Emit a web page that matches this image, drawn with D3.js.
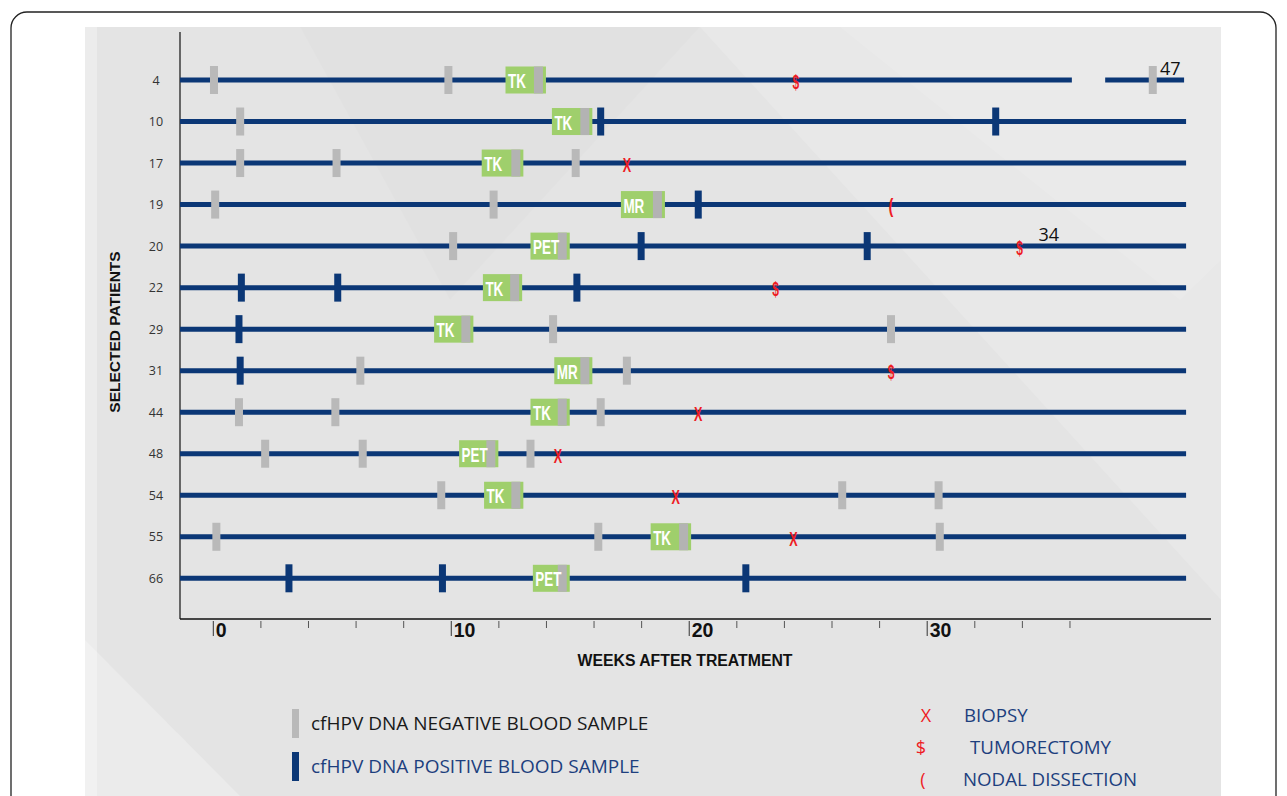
<!DOCTYPE html>
<html>
<head>
<meta charset="utf-8">
<script src="https://cdn.jsdelivr.net/npm/d3@7"></script>
<style>
html,body{margin:0;padding:0;background:#fff;}
svg{display:block;}
</style>
</head>
<body>
<svg id="chart" width="1287" height="796"></svg>
<script>
// ---------------- data ----------------
const patients = ["4","10","17","19","20","22","29","31","44","48","54","55","66"];
const negativeSamples = [
  [0.05, 9.9, 39.5], [1.15], [1.15, 5.2, 15.25], [0.1, 11.8], [10.1], [],
  [14.3, 28.5], [6.2, 17.4], [1.1, 5.15, 16.3], [2.2, 6.3, 13.35],
  [9.6, 26.45, 30.5], [0.15, 16.2, 30.55], []
];
const positiveSamples = [
  [], [16.3, 32.9], [], [20.4], [18.0, 27.5], [1.2, 5.25, 15.3],
  [1.1], [1.15], [], [], [], [], [3.2, 9.65, 22.4]
];
const imagingType  = ["TK","TK","TK","MR","PET","TK","TK","MR","TK","PET","TK","TK","PET"];
const imagingStart = [12.3, 14.25, 11.3, 17.15, 13.35, 11.35, 9.3, 14.35, 13.35, 10.35, 11.4, 18.4, 13.45];
const imagingEnd   = [14.0, 15.95, 13.05, 19.0, 15.0, 13.0, 10.95, 15.95, 15.0, 12.0, 13.05, 20.1, 15.0];
const biopsyWeeks       = [null, null, 17.4, null, null, null, null, null, 20.4, 14.5, 19.45, 24.4, null];
const tumorectomyWeeks  = [24.5, null, null, null, 33.9, 23.65, null, 28.5, null, null, null, null, null];
const nodalWeeks        = [null, null, null, 28.5, null, null, null, null, null, null, null, null, null];
const followUpLabel     = ["47", null, null, null, "34", null, null, null, null, null, null, null, null];
const followUpLabelWeek = [39.8, null, null, null, 34.7, null, null, null, null, null, null, null, null];
const lineGapStart = [36.1, null, null, null, null, null, null, null, null, null, null, null, null];
const lineGapEnd   = [37.5, null, null, null, null, null, null, null, null, null, null, null, null];
const lineEndWeek = 40.9;
const majorTicks = [0, 10, 20, 30];
const minorTicks = [2,4,6,8,12,14,16,18,22,24,26,28,32,34,36];
const xTitle = "WEEKS AFTER TREATMENT";
const yTitle = "SELECTED PATIENTS";
const legendSamples = ["cfHPV DNA NEGATIVE BLOOD SAMPLE", "cfHPV DNA POSITIVE BLOOD SAMPLE"];
const legendSymbols = ["X", "$", "("];
const legendProcedures = ["BIOPSY", "TUMORECTOMY", "NODAL DISSECTION"];

// ---------------- styles ----------------
const NAVY = "#0b3776";
const GRAY = "#b9b9b9";
const GREEN = "#9fcf6c";
const RED = "#ee1c24";
const SANS = "'Liberation Sans', Arial, sans-serif";

const svg = d3.select("#chart");

// outer frame + panel
svg.append("rect").attr("x", 11).attr("y", 12).attr("width", 1265).attr("height", 830)
  .attr("rx", 16).attr("fill", "#fff").attr("stroke", "#222").attr("stroke-width", 1.3);
svg.append("rect").attr("x", 85).attr("y", 27).attr("width", 1136).attr("height", 780).attr("fill", "#e4e4e4");
// subtle diagonal background shapes
const bg = svg.append("g");
bg.append("path").attr("d", "M85,27 L97,27 L97,796 L85,796 Z").attr("fill", "#ffffff").attr("opacity", 0.3);
bg.append("path").attr("d", "M700,27 L1221,27 L1221,600 Z").attr("fill", "#ffffff").attr("opacity", 0.15);
bg.append("path").attr("d", "M840,27 L1221,27 L1221,260 L1180,300 Z").attr("fill", "#ffffff").attr("opacity", 0.1);
bg.append("path").attr("d", "M85,640 L240,796 L85,796 Z").attr("fill", "#ffffff").attr("opacity", 0.25);
bg.append("path").attr("d", "M300,27 L700,27 L450,300 Z").attr("fill", "#000").attr("opacity", 0.012);

// scales
const x = d3.scaleLinear().domain([0, 30]).range([212.8, 926.7]);
const y = d3.scalePoint().domain(patients).range([80, 578.3]);
const axisLeftX = 180, axisRightX = 1211, axisY = 619, axisTop = 32;

// y axis line
svg.append("line").attr("x1", axisLeftX).attr("x2", axisLeftX).attr("y1", axisTop).attr("y2", axisY)
  .attr("stroke", "#111").attr("stroke-width", 1.2);

// x axis using d3 axis (minor ticks)
const gx = svg.append("g").attr("transform", `translate(0,${axisY})`);
gx.call(d3.axisBottom(x).tickValues(minorTicks).tickSize(9).tickFormat(""))
  .call(g => g.select(".domain").remove())
  .call(g => g.selectAll(".tick line").attr("stroke", "#555").attr("stroke-width", 1).attr("y1", 2));
gx.append("line").attr("x1", axisLeftX).attr("x2", axisRightX).attr("y1", 0).attr("y2", 0)
  .attr("stroke", "#111").attr("stroke-width", 1.5);
const gMajor = svg.append("g").attr("transform", `translate(0,${axisY})`);
gMajor.call(d3.axisBottom(x).tickValues(majorTicks).tickSize(17).tickFormat(d => d))
  .call(g => g.select(".domain").remove())
  .call(g => g.selectAll(".tick line").attr("stroke", "#333").attr("stroke-width", 1).attr("y1", 2))
  .call(g => g.selectAll(".tick text").attr("text-anchor", "start").attr("x", 2.5).attr("y", 4)
      .attr("dy", "0.71em").attr("fill", "#111")
      .style("font-family", SANS).style("font-weight", "bold").style("font-size", "19.5px"));

// axis titles
svg.append("text").attr("x", 685).attr("y", 666).attr("text-anchor", "middle")
  .style("font-family", SANS).style("font-weight", "bold").style("font-size", "15.8px")
  .attr("fill", "#111").text(xTitle);
svg.append("text").attr("transform", "translate(120,332) rotate(-90)").attr("text-anchor", "middle")
  .style("font-family", SANS).style("font-weight", "bold").style("font-size", "15.5px")
  .attr("fill", "#111").text(yTitle);

// row labels
svg.append("g").selectAll("text").data(patients).join("text")
  .attr("x", 156).attr("y", d => y(d) + 4.5).attr("text-anchor", "middle")
  .style("font-family", "'Open Sans', sans-serif").style("font-size", "12.5px").attr("fill", "#333").text(d => d);

// rows
const rows = svg.append("g").selectAll("g").data(patients).join("g")
  .attr("transform", d => `translate(0,${y(d)})`);

// timeline lines (with optional gap)
rows.each(function(d, i) {
  const g = d3.select(this);
  const segs = lineGapStart[i] != null
    ? [[axisLeftX, x(lineGapStart[i])], [x(lineGapEnd[i]), x(lineEndWeek) - 2]]
    : [[axisLeftX, x(lineEndWeek)]];
  g.selectAll("line.tl").data(segs).join("line").attr("class", "tl")
    .attr("x1", s => s[0]).attr("x2", s => s[1]).attr("y1", 0).attr("y2", 0)
    .attr("stroke", NAVY).attr("stroke-width", 5);
});

// imaging boxes
rows.each(function(d, i) {
  const g = d3.select(this);
  const x0 = x(imagingStart[i]), x1 = x(imagingEnd[i]), w = x1 - x0;
  g.append("rect").attr("x", x0).attr("y", -13.5).attr("width", w).attr("height", 27).attr("fill", GREEN);
  g.append("rect").attr("x", x1 - 12).attr("y", -13.5).attr("width", 9).attr("height", 27).attr("fill", "#b3b3b3");
  g.append("text").attr("transform", `translate(${x0 + 2.5},8) scale(0.64,1)`)
    .style("font-family", SANS).style("font-weight", "bold").style("font-size", "21px")
    .attr("fill", "#fff").text(imagingType[i]);
});

// negative samples
rows.each(function(d, i) {
  d3.select(this).selectAll("rect.neg").data(negativeSamples[i]).join("rect").attr("class", "neg")
    .attr("x", v => x(v) - 4).attr("y", -14).attr("width", 8).attr("height", 28).attr("fill", GRAY);
});
// positive samples
rows.each(function(d, i) {
  d3.select(this).selectAll("rect.pos").data(positiveSamples[i]).join("rect").attr("class", "pos")
    .attr("x", v => x(v) - 3.5).attr("y", -14).attr("width", 7).attr("height", 28).attr("fill", NAVY);
});

// procedures (tall condensed red glyphs)
function procSym(arr, sym, size, sx, dy) {
  rows.each(function(d, i) {
    if (arr[i] == null) return;
    d3.select(this).append("text").attr("transform", `translate(${x(arr[i])},${dy}) scale(${sx},1)`)
      .attr("text-anchor", "middle")
      .style("font-family", SANS).style("font-weight", "bold").style("font-size", size + "px")
      .attr("fill", RED).text(sym);
  });
}
procSym(biopsyWeeks, "X", 21, 0.6, 9);
procSym(tumorectomyWeeks, "$", 20, 0.6, 8.5);
procSym(nodalWeeks, "(", 19.5, 0.75, 8);

// follow-up labels
rows.each(function(d, i) {
  if (followUpLabel[i] == null) return;
  d3.select(this).append("text").attr("x", x(followUpLabelWeek[i])).attr("y", -5.5)
    .style("font-family", "'Open Sans', sans-serif").style("font-size", "18px").attr("fill", "#111")
    .text(followUpLabel[i]);
});

// legend: samples
const lg = svg.append("g");
lg.selectAll("rect").data(legendSamples).join("rect")
  .attr("x", 292).attr("y", (d, i) => 709 + i * 43).attr("width", 7).attr("height", 29)
  .attr("fill", (d, i) => i === 0 ? GRAY : NAVY);
lg.selectAll("text").data(legendSamples).join("text")
  .attr("x", 311).attr("y", (d, i) => 730 + i * 43)
  .style("font-family", "'Open Sans', sans-serif").style("font-size", "19px")
  .attr("fill", (d, i) => i === 0 ? "#1a1a1a" : "#1d3f7e").text(d => d);

// legend: procedures
const lp = svg.append("g");
lp.selectAll("text.sym").data(legendSymbols).join("text").attr("class", "sym")
  .attr("x", (d, i) => [926, 921, 923][i]).attr("y", (d, i) => 722 + i * 32).attr("text-anchor", "middle")
  .style("font-family", "'Open Sans', sans-serif").style("font-size", "18px").attr("fill", RED).text(d => d);
lp.selectAll("text.lab").data(legendProcedures).join("text").attr("class", "lab")
  .attr("x", (d, i) => [964, 970, 963][i]).attr("y", (d, i) => 722 + i * 32)
  .style("font-family", "'Open Sans', sans-serif").style("font-size", "18.7px").attr("fill", "#1d3f7e").text(d => d);
</script>
</body>
</html>
